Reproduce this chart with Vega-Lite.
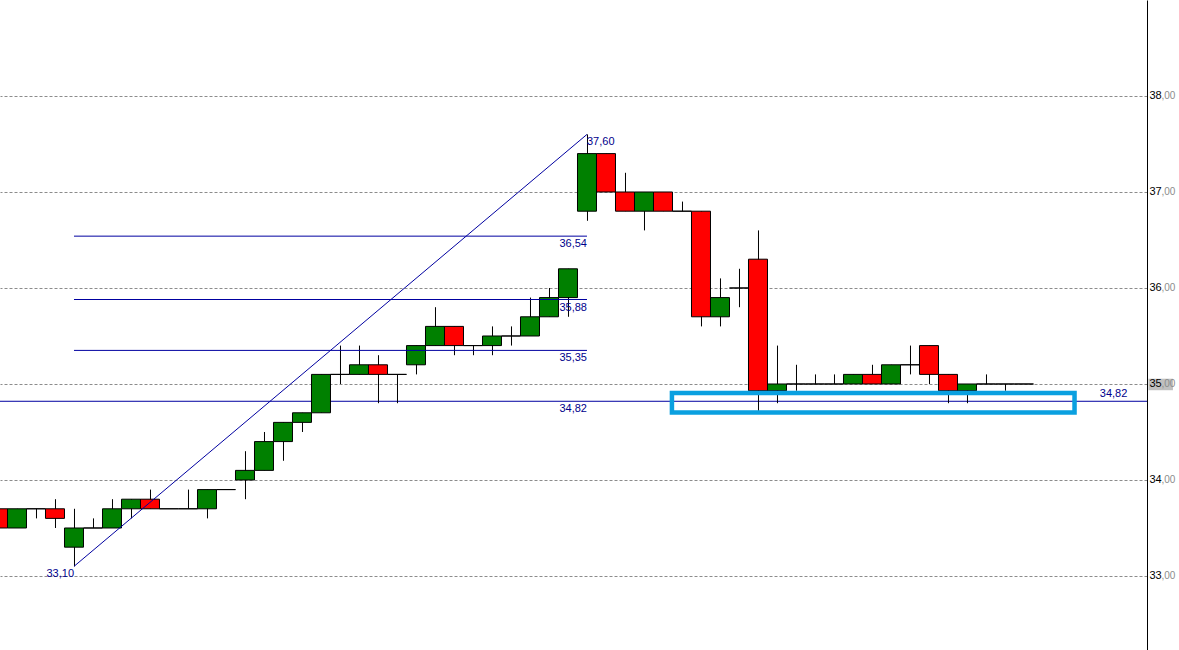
{
  "$schema": "https://vega.github.io/schema/vega-lite/v6.json",
  "width": 1147,
  "height": 650,
  "autosize": {"type": "none"},
  "padding": {"left": 0, "top": 0, "right": 32, "bottom": 0},
  "background": "white",
  "config": {"view": {"stroke": null}},
  "datasets": {
    "candles": [
      {"i": -1, "o": 33.7, "h": 33.7, "l": 33.5, "c": 33.5},
      {"i": 0, "o": 33.5, "h": 33.7, "l": 33.5, "c": 33.7},
      {"i": 1, "o": 33.7, "h": 33.7, "l": 33.6, "c": 33.7},
      {"i": 2, "o": 33.7, "h": 33.8, "l": 33.5, "c": 33.6},
      {"i": 3, "o": 33.3, "h": 33.7, "l": 33.1, "c": 33.5},
      {"i": 4, "o": 33.5, "h": 33.6, "l": 33.5, "c": 33.5},
      {"i": 5, "o": 33.5, "h": 33.8, "l": 33.5, "c": 33.7},
      {"i": 6, "o": 33.7, "h": 33.8, "l": 33.6, "c": 33.8},
      {"i": 7, "o": 33.8, "h": 33.9, "l": 33.7, "c": 33.7},
      {"i": 8, "o": 33.7, "h": 33.7, "l": 33.7, "c": 33.7},
      {"i": 9, "o": 33.7, "h": 33.9, "l": 33.7, "c": 33.7},
      {"i": 10, "o": 33.7, "h": 33.9, "l": 33.6, "c": 33.9},
      {"i": 11, "o": 33.9, "h": 33.9, "l": 33.9, "c": 33.9},
      {"i": 12, "o": 34.0, "h": 34.3, "l": 33.8, "c": 34.1},
      {"i": 13, "o": 34.1, "h": 34.5, "l": 34.1, "c": 34.4},
      {"i": 14, "o": 34.4, "h": 34.6, "l": 34.2, "c": 34.6},
      {"i": 15, "o": 34.6, "h": 34.7, "l": 34.5, "c": 34.7},
      {"i": 16, "o": 34.7, "h": 35.1, "l": 34.7, "c": 35.1},
      {"i": 17, "o": 35.1, "h": 35.4, "l": 35.0, "c": 35.1},
      {"i": 18, "o": 35.1, "h": 35.4, "l": 35.1, "c": 35.2},
      {"i": 19, "o": 35.2, "h": 35.3, "l": 34.8, "c": 35.1},
      {"i": 20, "o": 35.1, "h": 35.1, "l": 34.8, "c": 35.1},
      {"i": 21, "o": 35.2, "h": 35.4, "l": 35.1, "c": 35.4},
      {"i": 22, "o": 35.4, "h": 35.8, "l": 35.4, "c": 35.6},
      {"i": 23, "o": 35.6, "h": 35.6, "l": 35.3, "c": 35.4},
      {"i": 24, "o": 35.4, "h": 35.4, "l": 35.3, "c": 35.4},
      {"i": 25, "o": 35.4, "h": 35.6, "l": 35.3, "c": 35.5},
      {"i": 26, "o": 35.5, "h": 35.6, "l": 35.4, "c": 35.5},
      {"i": 27, "o": 35.5, "h": 35.9, "l": 35.5, "c": 35.7},
      {"i": 28, "o": 35.7, "h": 36.0, "l": 35.7, "c": 35.9},
      {"i": 29, "o": 35.9, "h": 36.2, "l": 35.7, "c": 36.2},
      {"i": 30, "o": 36.8, "h": 37.6, "l": 36.7, "c": 37.4},
      {"i": 31, "o": 37.4, "h": 37.4, "l": 37.0, "c": 37.0},
      {"i": 32, "o": 37.0, "h": 37.2, "l": 36.8, "c": 36.8},
      {"i": 33, "o": 36.8, "h": 37.0, "l": 36.6, "c": 37.0},
      {"i": 34, "o": 37.0, "h": 37.0, "l": 36.8, "c": 36.8},
      {"i": 35, "o": 36.8, "h": 36.9, "l": 36.8, "c": 36.8},
      {"i": 36, "o": 36.8, "h": 36.8, "l": 35.6, "c": 35.7},
      {"i": 37, "o": 35.7, "h": 36.1, "l": 35.6, "c": 35.9},
      {"i": 38, "o": 36.0, "h": 36.2, "l": 35.8, "c": 36.0},
      {"i": 39, "o": 36.3, "h": 36.6, "l": 34.72, "c": 34.93},
      {"i": 40, "o": 34.93, "h": 35.4, "l": 34.8, "c": 35.0},
      {"i": 41, "o": 35.0, "h": 35.2, "l": 34.93, "c": 35.0},
      {"i": 42, "o": 35.0, "h": 35.1, "l": 35.0, "c": 35.0},
      {"i": 43, "o": 35.0, "h": 35.1, "l": 35.0, "c": 35.0},
      {"i": 44, "o": 35.0, "h": 35.1, "l": 35.0, "c": 35.1},
      {"i": 45, "o": 35.1, "h": 35.2, "l": 35.0, "c": 35.0},
      {"i": 46, "o": 35.0, "h": 35.2, "l": 35.0, "c": 35.2},
      {"i": 47, "o": 35.2, "h": 35.4, "l": 35.1, "c": 35.2},
      {"i": 48, "o": 35.4, "h": 35.4, "l": 35.0, "c": 35.1},
      {"i": 49, "o": 35.1, "h": 35.1, "l": 34.8, "c": 34.93},
      {"i": 50, "o": 34.93, "h": 35.0, "l": 34.8, "c": 35.0},
      {"i": 51, "o": 35.0, "h": 35.1, "l": 35.0, "c": 35.0},
      {"i": 52, "o": 35.0, "h": 35.0, "l": 34.93, "c": 35.0},
      {"i": 53, "o": 35.0, "h": 35.0, "l": 35.0, "c": 35.0}
    ],
    "fib": [
      {"x1": 3, "y1": 33.1, "x2": 30, "y2": 37.6},
      {"x1": 3, "y1": 36.54, "x2": 30, "y2": 36.54},
      {"x1": 3, "y1": 35.88, "x2": 30, "y2": 35.88},
      {"x1": 3, "y1": 35.35, "x2": 30, "y2": 35.35}
    ],
    "level": [{"v": 34.82}],
    "labelsRightTop": [
      {"i": 30, "v": 36.54, "t": "36,54"},
      {"i": 30, "v": 35.88, "t": "35,88"},
      {"i": 30, "v": 35.35, "t": "35,35"},
      {"i": 30, "v": 34.82, "t": "34,82"},
      {"i": 3, "v": 33.1, "t": "33,10"}
    ],
    "labelsLeftTop": [{"i": 30, "v": 37.6, "t": "37,60"}],
    "labelsRightBottom": [{"i": 58.44, "v": 34.82, "t": "34,82"}],
    "box": [{"x1": 34.47, "x2": 55.66, "y1": 34.906, "y2": 34.703}],
    "highlight": [{"x1": 59.55, "x2": 60.84, "y1": 35.055, "y2": 34.935}]
  },
  "layer": [
    {
      "data": {"name": "level"},
      "mark": {"type": "rule", "color": "#0000a0", "strokeWidth": 1},
      "encoding": {
        "y": {
          "field": "v", "type": "quantitative",
          "scale": {"domain": [32.229, 39.0], "nice": false, "zero": false},
          "axis": {
            "orient": "right", "values": [33, 34, 35, 36, 37, 38], "title": null, "zindex": 0,
            "grid": true, "gridDash": [3, 2], "gridColor": "#8c8c8c", "gridOpacity": 1, "gridWidth": 1,
            "domain": true, "domainColor": "black", "domainWidth": 1, "ticks": false, "labels": false
          }
        }
      }
    },
    {
      "data": {"name": "highlight"},
      "mark": {"type": "rect", "fill": "#c0c0c0"},
      "encoding": {
        "x": {"field": "x1", "type": "quantitative", "scale": {"domain": [-0.8947, 59.474], "nice": false, "zero": false, "padding": 0}, "axis": null},
        "x2": {"field": "x2"},
        "y": {"field": "y1", "type": "quantitative", "scale": {"domain": [32.229, 39.0], "nice": false, "zero": false}, "axis": null},
        "y2": {"field": "y2"}
      }
    },
    {
      "data": {"name": "candles"},
      "mark": {"type": "rule", "color": "black", "strokeWidth": 1, "xOffset": 0.5},
      "encoding": {
        "x": {"field": "i", "type": "quantitative", "scale": {"domain": [-0.8947, 59.474], "nice": false, "zero": false, "padding": 0}, "axis": null},
        "y": {
          "field": "l", "type": "quantitative",
          "scale": {"domain": [32.229, 39.0], "nice": false, "zero": false},
          "axis": {
            "orient": "right", "values": [33, 34, 35, 36, 37, 38], "title": null, "zindex": 1,
            "grid": false, "domain": false, "ticks": false,
            "labelPadding": 2, "labelFont": "Liberation Sans", "labelFontSize": 11, "labelColor": "black",
            "labelExpr": "toString(datum.value)", "labelFlush": false, "labelOverlap": false
          }
        },
        "y2": {"field": "h"}
      }
    },
    {
      "data": {"name": "candles"},
      "mark": {"type": "bar", "width": 19, "stroke": "black", "strokeWidth": 1, "opacity": 1},
      "encoding": {
        "x": {"field": "i", "type": "quantitative", "scale": {"domain": [-0.8947, 59.474], "nice": false, "zero": false, "padding": 0}, "axis": null},
        "y": {
          "field": "o", "type": "quantitative",
          "scale": {"domain": [32.229, 39.0], "nice": false, "zero": false},
          "axis": {
            "orient": "right", "values": [33, 34, 35, 36, 37, 38], "title": null, "zindex": 1,
            "grid": false, "domain": false, "ticks": false,
            "labelPadding": 14, "labelFont": "Liberation Sans", "labelFontSize": 10, "labelColor": "#8c8c8c",
            "labelExpr": "',00'", "labelFlush": false, "labelOverlap": false
          }
        },
        "y2": {"field": "c"},
        "fill": {"condition": {"test": "datum.c < datum.o", "value": "#ff0000"}, "value": "#008000"}
      }
    },
    {
      "data": {"name": "fib"},
      "mark": {"type": "rule", "color": "#0000a0", "strokeWidth": 1},
      "encoding": {
        "x": {"field": "x1", "type": "quantitative", "scale": {"domain": [-0.8947, 59.474], "nice": false, "zero": false, "padding": 0}, "axis": null},
        "x2": {"field": "x2"},
        "y": {"field": "y1", "type": "quantitative", "scale": {"domain": [32.229, 39.0], "nice": false, "zero": false}, "axis": null},
        "y2": {"field": "y2"}
      }
    },
    {
      "data": {"name": "box"},
      "mark": {"type": "rect", "filled": false, "stroke": "#0aa0e0", "strokeWidth": 4.5},
      "encoding": {
        "x": {"field": "x1", "type": "quantitative", "scale": {"domain": [-0.8947, 59.474], "nice": false, "zero": false, "padding": 0}, "axis": null},
        "x2": {"field": "x2"},
        "y": {"field": "y1", "type": "quantitative", "scale": {"domain": [32.229, 39.0], "nice": false, "zero": false}, "axis": null},
        "y2": {"field": "y2"}
      }
    },
    {
      "data": {"name": "labelsRightTop"},
      "mark": {"type": "text", "align": "right", "baseline": "top", "dy": 2, "font": "Liberation Sans", "fontSize": 11, "color": "#00008b"},
      "encoding": {
        "x": {"field": "i", "type": "quantitative", "scale": {"domain": [-0.8947, 59.474], "nice": false, "zero": false, "padding": 0}, "axis": null},
        "y": {"field": "v", "type": "quantitative", "scale": {"domain": [32.229, 39.0], "nice": false, "zero": false}, "axis": null},
        "text": {"field": "t"}
      }
    },
    {
      "data": {"name": "labelsLeftTop"},
      "mark": {"type": "text", "align": "left", "baseline": "top", "dy": 2, "font": "Liberation Sans", "fontSize": 11, "color": "#00008b"},
      "encoding": {
        "x": {"field": "i", "type": "quantitative", "scale": {"domain": [-0.8947, 59.474], "nice": false, "zero": false, "padding": 0}, "axis": null},
        "y": {"field": "v", "type": "quantitative", "scale": {"domain": [32.229, 39.0], "nice": false, "zero": false}, "axis": null},
        "text": {"field": "t"}
      }
    },
    {
      "data": {"name": "labelsRightBottom"},
      "mark": {"type": "text", "align": "right", "baseline": "bottom", "dy": -2, "font": "Liberation Sans", "fontSize": 11, "color": "#00008b"},
      "encoding": {
        "x": {"field": "i", "type": "quantitative", "scale": {"domain": [-0.8947, 59.474], "nice": false, "zero": false, "padding": 0}, "axis": null},
        "y": {"field": "v", "type": "quantitative", "scale": {"domain": [32.229, 39.0], "nice": false, "zero": false}, "axis": null},
        "text": {"field": "t"}
      }
    }
  ],
  "resolve": {"axis": {"y": "independent"}}
}
